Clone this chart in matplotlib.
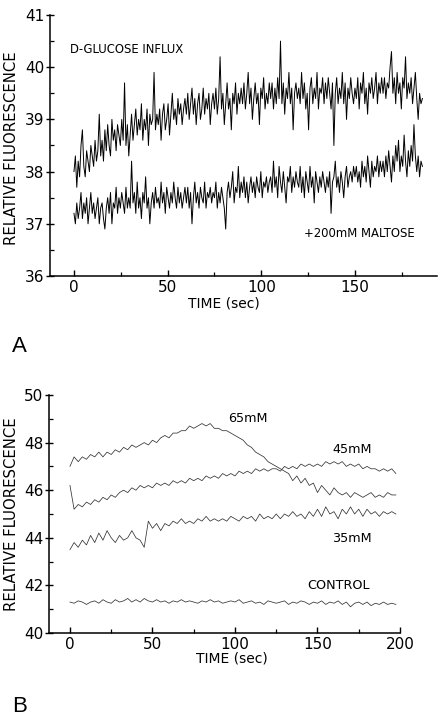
import numpy as np
import matplotlib
matplotlib.use("Agg")
import matplotlib.pyplot as plt
from matplotlib.ticker import MultipleLocator

plt.rcParams['font.family'] = ['DejaVu Sans']

# ---------------- Panel A data ----------------
a_t0, a_dt = 0.0, 0.75
glucose_influx = [
    38.0, 38.3, 37.7, 38.2, 37.9, 38.5, 38.8, 38.1, 37.9, 38.4, 38.2, 38.0, 38.5, 38.3, 38.1, 38.6, 38.2, 38.4, 39.1, 38.3,
    38.6, 38.2, 38.8, 38.4, 38.9, 38.5, 38.3, 39.0, 38.6, 38.8, 38.4, 38.9, 38.7, 38.5, 39.0, 38.6, 39.7, 38.5, 38.9, 38.3,
    38.7, 39.1, 38.6, 38.9, 39.2, 38.7, 39.0, 38.8, 39.3, 38.6, 39.0, 38.8, 39.2, 38.5, 39.1, 38.9, 39.0, 39.9, 38.8, 39.1,
    38.9, 39.2, 38.6, 39.1, 39.3, 38.8, 39.0, 39.3, 38.7, 39.1, 39.5, 39.0, 39.2, 38.9, 39.4, 39.1, 39.3, 38.9, 39.2, 39.4,
    39.1, 39.5, 39.0, 39.3, 39.6, 39.1, 39.4, 38.9, 39.3, 39.5, 39.0, 39.2, 39.6, 39.1, 39.4, 39.2, 39.5, 38.9, 39.3, 39.5,
    39.2, 39.6, 39.1, 39.4, 40.2, 39.2, 39.5, 38.9, 39.3, 39.7, 39.2, 39.4, 38.8, 39.5, 39.3, 39.7, 39.1, 39.5, 39.3, 39.6,
    39.3, 39.7, 39.2, 39.5, 39.9, 39.3, 39.6, 39.0, 39.4, 39.7, 39.3, 39.5, 38.9, 39.6, 39.4, 39.8, 39.2, 39.5, 39.3, 39.7,
    39.4, 39.7, 39.2, 39.6, 39.3, 39.8, 39.4, 40.5, 39.3, 39.7, 39.1, 39.6, 39.4, 39.9, 39.3, 39.6, 38.8, 39.5, 39.7, 39.4,
    39.6, 39.3, 39.9, 39.4, 39.7, 39.2, 39.5, 38.8, 39.6, 39.8, 39.3, 39.6, 39.4, 39.9, 39.2, 39.6, 39.5, 39.8, 39.3, 39.7,
    39.4, 39.8, 39.5, 39.2, 39.7, 38.5, 39.5, 39.8, 39.3, 39.6, 39.4, 39.9, 39.3, 39.7, 39.0, 39.6, 39.4, 39.8, 39.5, 39.3,
    39.6, 39.4, 39.8, 39.2, 39.7, 39.5, 39.9, 39.3, 39.6, 39.1, 39.7, 39.5, 39.8, 39.4, 39.6, 39.9, 39.3, 39.7, 39.5, 39.8,
    39.5, 39.8, 39.4, 39.7, 39.6, 40.0, 40.3, 39.5, 39.8, 39.3, 39.9, 39.5, 39.7, 39.2, 39.8, 39.6, 40.2, 39.4, 39.7, 39.5,
    39.8, 39.3, 39.6, 39.9, 39.4, 39.0, 39.5, 39.3, 39.4,
]
maltose = [
    37.2, 37.0, 37.4, 37.1, 37.3, 37.6, 37.1, 37.4, 37.2, 37.5, 37.0, 37.3, 37.6, 37.2, 37.4, 37.1, 37.3, 37.5, 37.0, 37.3,
    37.4, 37.1, 36.9, 37.3, 37.5, 37.2, 37.6, 37.0, 37.4, 37.3, 37.7, 37.2, 37.5, 37.3, 37.6, 37.4, 37.2, 37.7, 37.3, 37.5,
    37.3, 38.2, 37.4, 37.6, 37.2, 37.8, 37.3, 37.5, 37.1, 37.6, 37.4, 37.9, 37.3, 37.5, 37.0, 37.4, 37.6, 37.3, 37.7, 37.4,
    37.5, 37.3, 37.8, 37.4, 37.6, 37.2, 37.7, 37.5, 37.3, 37.6, 37.4, 37.8, 37.5, 37.3, 37.7, 37.4, 37.6, 37.3, 37.5, 37.7,
    37.4, 37.7, 37.3, 37.6, 37.0, 37.5, 37.8, 37.4, 37.6, 37.3, 37.7, 37.5, 37.4, 37.8, 37.3, 37.6, 37.5, 37.7, 37.4, 37.6,
    37.5, 37.8, 37.3, 37.6, 37.4, 37.7, 37.5, 37.3, 36.9, 37.6, 37.8, 37.5, 37.7, 38.0, 37.4, 37.7, 37.6, 38.1, 37.5, 37.8,
    37.6, 37.9, 37.5, 37.8, 37.4, 37.7, 37.9, 37.6, 37.8, 37.5, 37.9, 37.7, 37.6, 38.0, 37.5, 37.8, 37.7, 37.9, 37.6, 37.8,
    37.9, 37.6, 38.2, 37.7, 37.9, 37.5, 38.1, 37.8, 37.6, 38.0, 37.7, 37.4, 37.9, 37.8, 38.1, 37.6, 37.9, 37.7, 38.0, 37.8,
    37.7, 38.1, 37.6, 37.9, 37.5, 38.0, 37.8, 37.6, 38.1, 37.7, 37.9, 37.4, 38.0, 37.8, 37.6, 37.9, 37.7, 38.0, 37.8, 37.6,
    37.9, 37.7, 38.0, 37.2, 37.8, 37.9, 38.2, 37.7, 37.9, 37.6, 38.0, 37.8, 37.5, 37.9, 38.1, 37.7, 37.9, 38.0, 37.8, 38.1,
    37.9, 38.1, 37.8, 38.0, 37.7, 38.2, 37.9, 38.1, 37.8, 38.3, 38.0, 37.7, 38.2, 37.9, 38.1, 38.0, 38.3, 37.9, 38.2, 38.0,
    38.2, 37.9, 38.3, 38.0, 38.4, 38.1, 37.8, 38.3, 38.0, 38.5, 38.2, 38.6, 38.0, 38.3, 38.1, 38.7, 38.2, 37.9, 38.4, 38.1,
    38.5, 38.2, 38.9, 38.3, 38.0, 38.3, 37.9, 38.2, 38.1,
]
a_xticks = [0, 50, 100, 150]
a_yticks = [36, 37, 38, 39, 40, 41]

# ---------------- Panel B data ----------------
b_t0, b_dt = 0.0, 2.5
conc_65 = [
    47.0, 47.4, 47.2, 47.4, 47.3, 47.5, 47.4, 47.6, 47.4, 47.6,
    47.5, 47.7, 47.6, 47.8, 47.7, 47.9, 47.8, 47.9, 48.0, 47.9,
    48.1, 48.0, 48.2, 48.3, 48.2, 48.4, 48.4, 48.5, 48.5, 48.7,
    48.6, 48.7, 48.8, 48.7, 48.8, 48.6, 48.6, 48.5, 48.5, 48.4,
    48.3, 48.2, 48.1, 47.9, 47.8, 47.6, 47.5, 47.4, 47.2, 47.1,
    47.0, 46.9, 46.8, 46.7, 46.4, 46.6, 46.3, 46.5, 46.2, 46.3,
    45.9, 46.2, 46.0, 45.8, 46.1, 45.9, 45.8, 45.9, 45.7, 45.9,
    45.8, 45.7, 45.8, 45.9, 45.7, 45.8, 45.7, 45.9, 45.8, 45.8,
]
conc_45 = [
    46.2, 45.2, 45.4, 45.3, 45.5, 45.4, 45.6, 45.5, 45.7, 45.6,
    45.8, 45.7, 45.9, 46.0, 45.9, 46.1, 46.0, 46.2, 46.1, 46.2,
    46.1, 46.3, 46.2, 46.3, 46.2, 46.4, 46.3, 46.4, 46.3, 46.5,
    46.4, 46.5, 46.4, 46.6, 46.5, 46.6, 46.5, 46.7, 46.6, 46.7,
    46.6, 46.8, 46.7, 46.8, 46.7, 46.9, 46.8, 46.9, 46.8, 46.9,
    46.9, 46.8, 47.0, 46.9, 47.0, 46.9, 47.1, 47.0, 47.1, 47.0,
    47.1, 47.0, 47.2, 47.1, 47.2, 47.1, 47.2, 47.0, 47.1, 47.0,
    47.1, 46.9, 47.0, 46.9, 46.9, 46.8, 46.9, 46.8, 46.9, 46.7,
]
conc_35 = [
    43.5, 43.8, 43.6, 43.9, 43.7, 44.1, 43.8, 44.2, 43.9, 44.3,
    44.0, 43.8, 44.1, 43.9, 44.0, 44.3, 44.0, 43.9, 43.6, 44.7,
    44.4, 44.6, 44.3, 44.6, 44.5, 44.7, 44.6, 44.8, 44.6, 44.7,
    44.6, 44.8, 44.7, 44.9, 44.7, 44.8, 44.7, 44.8, 44.7, 44.9,
    44.8, 44.7, 44.9, 44.8, 44.9, 44.7, 45.0, 44.8, 44.9, 44.8,
    45.0, 44.8, 45.0, 44.9, 45.1, 44.9, 45.0, 44.8, 45.1, 44.9,
    45.2, 44.9, 45.3, 45.0, 45.1, 44.8, 45.2, 45.0, 45.3, 45.0,
    45.2, 44.9, 45.2, 45.0, 45.1, 44.9, 45.1, 45.0, 45.1, 45.0,
]
control = [
    41.3, 41.25, 41.35, 41.3, 41.2, 41.3, 41.35, 41.25, 41.4, 41.3,
    41.25, 41.4, 41.3, 41.35, 41.45, 41.3, 41.4, 41.3, 41.45, 41.35,
    41.3, 41.4, 41.3, 41.35, 41.25, 41.35, 41.3, 41.4, 41.3, 41.35,
    41.3, 41.25, 41.35, 41.3, 41.4, 41.3, 41.35, 41.25, 41.3, 41.35,
    41.3, 41.4, 41.25, 41.3, 41.35, 41.25, 41.3, 41.2, 41.35, 41.3,
    41.25, 41.3, 41.35, 41.2, 41.3, 41.25, 41.35, 41.3, 41.2, 41.3,
    41.25, 41.35, 41.2, 41.3, 41.25, 41.35, 41.2, 41.3, 41.1, 41.25,
    41.3, 41.2, 41.3, 41.15, 41.25, 41.2, 41.3, 41.2, 41.25, 41.2,
]
b_xticks = [0, 50, 100, 150, 200]
b_yticks = [40, 42, 44, 46, 48, 50]

# ---------------- Figure ----------------
W, H = 438, 718
fig = plt.figure(figsize=(W / 100, H / 100), dpi=100)


def px_axes(left, top, right, bottom):
    return fig.add_axes([left / W, 1 - bottom / H, (right - left) / W, (bottom - top) / H])


def style(ax):
    for s in ('top', 'right'):
        ax.spines[s].set_visible(False)
    for s in ('left', 'bottom'):
        ax.spines[s].set_linewidth(1.1)
    ax.tick_params(axis='y', which='major', direction='inout', length=6, width=1.0,
                   labelsize=11, pad=1)
    ax.tick_params(axis='y', which='minor', direction='in', length=3, width=0.9)
    ax.tick_params(axis='x', which='major', direction='in', length=4, width=1.0,
                   labelsize=11, pad=3)
    ax.tick_params(axis='x', which='minor', direction='in', length=3, width=0.9)


# Panel A
axA = px_axes(50, 15, 437, 276)
tA = a_t0 + a_dt * np.arange(len(glucose_influx))
axA.plot(tA, glucose_influx, color='black', lw=0.7)
axA.plot(tA, maltose, color='black', lw=0.7)
axA.set_xlim(-12.8, 193.8)
axA.set_ylim(36, 41)
axA.set_xticks(a_xticks)
axA.xaxis.set_minor_locator(MultipleLocator(25))
axA.set_yticks(a_yticks)
axA.yaxis.set_minor_locator(MultipleLocator(0.5))
style(axA)
axA.set_xlabel('TIME (sec)', fontsize=10)
axA.xaxis.set_label_coords(0.45, -0.08)
axA.set_ylabel('RELATIVE FLUORESCENCE', fontsize=10.7)
axA.yaxis.set_label_coords(-0.08, 0.49)
axA.text(-2, 40.33, 'D-GLUCOSE INFLUX', fontsize=8.4, va='center', ha='left')
axA.text(123, 36.81, '+200mM MALTOSE', fontsize=8.4, va='center', ha='left')

# Panel B
axB = px_axes(49, 395, 400, 633)
tB = b_t0 + b_dt * np.arange(len(conc_65))
for series in (conc_65, conc_45, conc_35, control):
    axB.plot(tB, series, color='#333333', lw=0.55)
axB.set_xlim(-12.7, 200)
axB.set_ylim(40, 50)
axB.set_xticks(b_xticks)
axB.xaxis.set_minor_locator(MultipleLocator(25))
axB.set_yticks(b_yticks)
axB.yaxis.set_minor_locator(MultipleLocator(1))
style(axB)
axB.set_xlabel('TIME (sec)', fontsize=10)
axB.xaxis.set_label_coords(0.52, -0.076)
axB.set_ylabel('RELATIVE FLUORESCENCE', fontsize=10.7)
axB.yaxis.set_label_coords(-0.085, 0.5)
axB.text(96, 49.0, '65mM', fontsize=9.2, va='center', ha='left')
axB.text(159, 47.7, '45mM', fontsize=9.2, va='center', ha='left')
axB.text(159, 43.95, '35mM', fontsize=9.2, va='center', ha='left')
axB.text(144, 42.0, 'CONTROL', fontsize=9.2, va='center', ha='left')

# Panel letters
fig.text(12 / W, 1 - 352 / H, 'A', fontsize=16, family=['Liberation Sans', 'DejaVu Sans'],
         ha='left', va='baseline')
fig.text(12 / W, 1 - 712 / H, 'B', fontsize=16, family=['Liberation Sans', 'DejaVu Sans'],
         ha='left', va='baseline')

fig.savefig('out.png', dpi=100)
